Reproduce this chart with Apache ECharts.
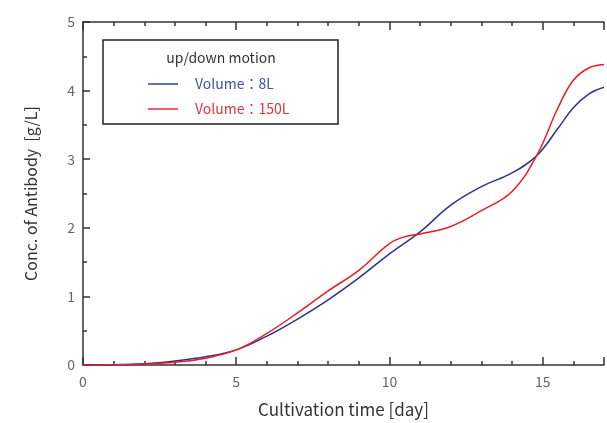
<!DOCTYPE html>
<html>
<head>
<meta charset="utf-8">
<script src="https://cdn.jsdelivr.net/npm/echarts@6/dist/echarts.min.js"></script>
<style>
  html, body { margin: 0; padding: 0; background: #fff; }
  #mychart { width: 607px; height: 423px; }
</style>
</head>
<body>
<div id="mychart"></div>
<script>
  // 数据
  const daysSmall = [0, 1, 2, 3, 4, 5, 6, 7, 8, 9, 10, 11, 12, 13, 14, 14.8, 15.5, 16, 16.5, 17]
  const conc8L = [0, 0.005, 0.02, 0.06, 0.12, 0.22, 0.42, 0.67, 0.95, 1.27, 1.62, 1.94, 2.33, 2.6, 2.8, 3.05, 3.45, 3.75, 3.95, 4.05]
  const daysLarge = [0, 1, 2, 3, 4, 5, 6, 7, 8, 9, 10, 10.5, 11, 12, 13, 14, 14.8, 15.5, 16, 16.5, 17]
  const conc150L = [0, 0.003, 0.015, 0.04, 0.1, 0.22, 0.46, 0.76, 1.08, 1.38, 1.77, 1.87, 1.91, 2.02, 2.25, 2.53, 3.05, 3.75, 4.15, 4.33, 4.38]
  const xTicks = [0, 5, 10, 15]
  const seriesNames = ['Volume：8L', 'Volume：150L']

  const pairs = (xs, ys) => xs.map((x, i) => [x, ys[i]])

  const myChart = echarts.init(document.getElementById('mychart'))
  const axisColor = '#333'
  const font = '"Noto Sans CJK JP", "Noto Sans", sans-serif'

  const option = {
      animation: false,
      grid: {
          left: 83,
          right: 2,
          top: 22,
          bottom: 53
      },
      graphic: [{
              type: 'rect',
              shape: { x: 103, y: 40, width: 235, height: 84 },
              style: { fill: '#fff', stroke: '#222', lineWidth: 1.5 },
              z: 10
          },
          {
              type: 'text',
              x: 221,
              y: 58,
              style: {
                  text: 'up/down motion',
                  fill: '#333',
                  font: '14px ' + font,
                  textAlign: 'center',
                  textVerticalAlign: 'middle'
              },
              z: 11
          }
      ],
      legend: {
          orient: 'vertical',
          left: 143,
          top: 72,
          itemWidth: 30,
          itemHeight: 10,
          itemGap: 11,
          z: 12,
          icon: 'path://M0,4.3L30,4.3L30,5.7L0,5.7Z',
          textStyle: { fontSize: 14, fontFamily: font, padding: [0, 0, 0, 12] },
          data: [{
                  name: seriesNames[0],
                  textStyle: { color: '#4a4f9e' }
              },
              {
                  name: seriesNames[1],
                  textStyle: { color: '#e2343d' }
              }
          ]
      },
      xAxis: [{
              type: 'value',
              min: 0,
              max: 17,
              interval: 5,
              name: 'Cultivation time [day]',
              nameLocation: 'middle',
              nameGap: 36,
              nameTextStyle: { fontSize: 17, color: '#333', fontFamily: font },
              axisLine: { show: true, lineStyle: { color: axisColor, width: 1.5 } },
              axisTick: { inside: true, length: 8, lineStyle: { color: axisColor, width: 1.5 } },
              minorTick: { show: true, splitNumber: 5, length: 4, lineStyle: { color: axisColor, width: 1.5 } },
              axisLabel: {
                  fontSize: 14,
                  color: '#666',
                  fontFamily: font,
                  margin: 10,
                  formatter: v => xTicks.includes(v) ? String(v) : ''
              },
              splitLine: { show: false }
          },
          {
              type: 'value',
              position: 'top',
              min: 0,
              max: 17,
              interval: 5,
              axisLine: { show: true, lineStyle: { color: axisColor, width: 1.5 } },
              axisTick: { inside: true, length: 8, lineStyle: { color: axisColor, width: 1.5 } },
              minorTick: { show: true, splitNumber: 5, length: 4, lineStyle: { color: axisColor, width: 1.5 } },
              axisLabel: { show: false },
              splitLine: { show: false }
          }
      ],
      yAxis: {
          type: 'value',
          min: 0,
          max: 5,
          interval: 1,
          name: 'Conc. of Antibody  [g/L]',
          nameLocation: 'middle',
          nameGap: 44,
          nameTextStyle: { fontSize: 16, color: '#333', fontFamily: font },
          axisLine: { show: true, lineStyle: { color: axisColor, width: 1.5 } },
          axisTick: { inside: true, length: 7, lineStyle: { color: axisColor, width: 1.5 } },
          minorTick: { show: true, splitNumber: 2, length: 4, lineStyle: { color: axisColor, width: 1.5 } },
          axisLabel: { fontSize: 14, color: '#666', fontFamily: font, margin: 8 },
          splitLine: { show: false }
      },
      series: [{
              name: seriesNames[0],
              type: 'line',
              data: pairs(daysSmall, conc8L),
              smooth: 0.4,
              showSymbol: false,
              lineStyle: { color: '#2e3192', width: 1.5 },
              itemStyle: { color: '#2e3192' }
          },
          {
              name: seriesNames[1],
              type: 'line',
              data: pairs(daysLarge, conc150L),
              smooth: 0.4,
              showSymbol: false,
              lineStyle: { color: '#ed1c24', width: 1.5 },
              itemStyle: { color: '#ed1c24' }
          }
      ]
  }

  myChart.setOption(option)
</script>
</body>
</html>
